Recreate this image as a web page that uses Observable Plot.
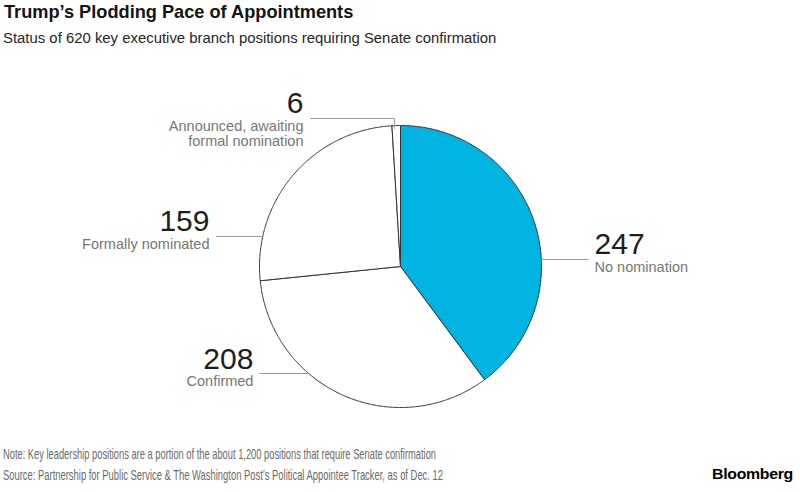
<!DOCTYPE html>
<html>
<head>
<meta charset="utf-8">
<script src="https://cdn.jsdelivr.net/npm/d3@7"></script>
<script src="https://cdn.jsdelivr.net/npm/@observablehq/plot@0.6"></script>
<style>
  html, body { margin: 0; padding: 0; background: #fff; }
  body { width: 800px; height: 492px; position: relative; overflow: hidden; font-family: "Liberation Sans", Arial, sans-serif; }
  .title { position: absolute; left: 4px; top: 2px; font-size: 18.2px; font-weight: bold; color: #141414; white-space: nowrap; }
  .subtitle { position: absolute; left: 3px; top: 30px; font-size: 14.9px; color: #262626; white-space: nowrap; }
  #chart { position: absolute; left: 0; top: 60px; }
  .note { position: absolute; left: 3px; font-size: 14.5px; color: #6a6a6a; white-space: nowrap; transform-origin: 0 0; }
  .logo { position: absolute; left: 712px; top: 465px; font-size: 15.5px; font-weight: bold; color: #000; letter-spacing: -0.3px; white-space: nowrap; transform-origin: 0 0; }
</style>
</head>
<body>
<div class="title">Trump’s Plodding Pace of Appointments</div>
<div class="subtitle">Status of 620 key executive branch positions requiring Senate confirmation</div>
<div id="chart"></div>
<div class="note" data-w="433" style="top:446px">Note: Key leadership positions are a portion of the about 1,200 positions that require Senate confirmation</div>
<div class="note" data-w="440" style="top:467px">Source: Partnership for Public Service &amp; The Washington Post’s Political Appointee Tracker, as of Dec. 12</div>
<div class="logo" data-w="81">Bloomberg</div>
<script>
// Status of key executive branch positions (clockwise from 12 o'clock)
const categories = ["No nomination", "Confirmed", "Formally nominated", "Announced, awaiting\nformal nomination"];
const counts = [247, 208, 159, 6];

// Slice fills, in the same order as the categories
const sliceFill = ["#00b4e2", "#ffffff", "#ffffff", "#ffffff"];

// Label placement in pie units (radius = 1, y up): leader end point and text side
const labelLayout = [
  {lineY: 0.05, lineEndX: 1.333, textX: 1.376, side: "right"},
  {lineY: -0.759, lineEndX: -1.0, textX: -1.043, side: "left"},
  {lineY: 0.213, lineEndX: -1.305, textX: -1.355, side: "left"},
  {lineY: 1.05, lineEndX: -0.638, textX: -0.688, side: "left", elbowX: -0.043}
];

const arcs = d3.pie().sort(null).value(d => d)(counts);

// Polygon outline of each slice: centre -> arc -> centre
const slicePoints = arcs.map((a, i) => {
  const pts = [{x: 0, y: 0, i}];
  const steps = Math.max(2, Math.ceil((a.endAngle - a.startAngle) / (Math.PI / 360)));
  for (let k = 0; k <= steps; ++k) {
    const t = a.startAngle + (a.endAngle - a.startAngle) * k / steps;
    pts.push({x: Math.sin(t), y: Math.cos(t), i});
  }
  pts.push({x: 0, y: 0, i});
  return pts;
});

// Leader lines from the pie rim out to each label
const leaders = labelLayout.map((l, i) => {
  if (l.elbowX !== undefined) {
    const rimY = Math.sqrt(1 - l.elbowX * l.elbowX);
    return [{x: l.elbowX, y: rimY - 0.02, i}, {x: l.elbowX, y: l.lineY, i}, {x: l.lineEndX, y: l.lineY, i}];
  }
  const rimX = Math.sign(l.lineEndX) * Math.sqrt(1 - l.lineY * l.lineY);
  return [{x: rimX, y: l.lineY, i}, {x: l.lineEndX, y: l.lineY, i}];
});

const labels = counts.map((v, i) => ({
  value: v,
  name: categories[i],
  x: labelLayout[i].textX,
  y: labelLayout[i].lineY,
  anchor: labelLayout[i].side === "right" ? "start" : "end"
}));

const font = "Liberation Sans, Arial, sans-serif";

const plot = Plot.plot({
  width: 800,
  height: 380,
  margin: 0,
  style: {background: "transparent", overflow: "visible"},
  x: {domain: [-1, 1], range: [259, 541], axis: null},
  y: {domain: [-1, 1], range: [347, 65], axis: null},
  marks: [
    ...slicePoints.map((pts, i) => Plot.line(pts, {
      x: "x", y: "y", fill: sliceFill[i], stroke: "#333333", strokeWidth: 1, strokeLinejoin: "round"
    })),
    ...leaders.map(pts => Plot.line(pts, {x: "x", y: "y", stroke: "#9a9a9a", strokeWidth: 1})),
    ...["start", "end"].map(anchor => Plot.text(labels.filter(d => d.anchor === anchor), {
      x: "x", y: "y", text: d => String(d.value), textAnchor: anchor, lineAnchor: "bottom",
      dy: -5, fontSize: 30, fill: "#1e1e1e", fontFamily: font
    })),
    ...["start", "end"].map(anchor => Plot.text(labels.filter(d => d.anchor === anchor), {
      x: "x", y: "y", text: "name", textAnchor: anchor, lineAnchor: "top",
      dy: 2, fontSize: 14.5, lineHeight: 1.05, fill: "#767676", fontFamily: font
    }))
  ]
});
document.getElementById("chart").appendChild(plot);

// Condense the footer lines to their set widths
document.querySelectorAll("[data-w]").forEach(el => {
  const w = el.getBoundingClientRect().width;
  const target = +el.dataset.w;
  if (w > 0) el.style.transform = `scaleX(${target / w})`;
});
</script>
</body>
</html>
